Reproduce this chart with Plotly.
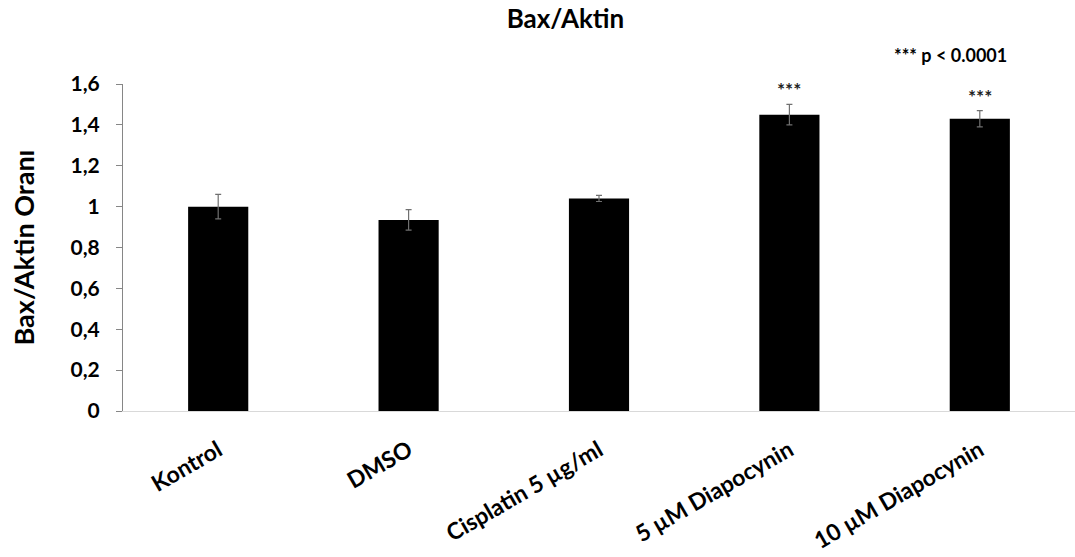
import plotly.graph_objects as go

categories = ["Kontrol", "DMSO", "Cisplatin 5 µg/ml", "5 µM Diapocynin", "10 µM Diapocynin"]
ratios = [1.00, 0.935, 1.04, 1.45, 1.43]
errors = [0.06, 0.05, 0.015, 0.05, 0.04]
significance = ["", "", "", "***", "***"]
y_ticks = [0, 0.2, 0.4, 0.6, 0.8, 1.0, 1.2, 1.4, 1.6]
y_tick_text = ["0", "0,2", "0,4", "0,6", "0,8", "1", "1,2", "1,4", "1,6"]

font_family = "Lato, Open Sans, DejaVu Sans, sans-serif"

fig = go.Figure()
fig.add_trace(go.Bar(
    x=categories,
    y=ratios,
    width=0.316,
    marker=dict(color="black", line=dict(width=0)),
    error_y=dict(type="data", array=errors, visible=True,
                 color="#707070", thickness=1.2, width=3),
    showlegend=False,
))

# significance stars above the error bars
for cat, val, err, sig in zip(categories, ratios, errors, significance):
    if sig:
        fig.add_annotation(x=cat, y=val + err, text="<b>" + sig + "</b>", showarrow=False,
                           yanchor="bottom", yshift=1,
                           font=dict(family=font_family, size=19, color="#222222"))

fig.add_annotation(x=0.869, y=1.09, xref="paper", yref="paper", text="<b>*** p < 0.0001</b>",
                   showarrow=False, xanchor="center", yanchor="middle",
                   font=dict(family=font_family, size=18, color="black"))

fig.update_layout(
    width=1075, height=557,
    margin=dict(l=123, r=0, t=84, b=146),
    paper_bgcolor="white", plot_bgcolor="white",
    title=dict(text="<b>Bax/Aktin</b>", x=0.526, xanchor="center", y=0.966, yanchor="middle",
               font=dict(family=font_family, size=26, color="black")),
    bargap=0.684,
    font=dict(family=font_family, color="black"),
)

fig.update_xaxes(
    type="category",
    tickangle=-30,
    tickfont=dict(family=font_family, size=23, color="black"),
    tickprefix="<b>", ticksuffix="</b>",
    ticklabelstandoff=16,
    showline=True, linecolor="#d9d9d9", linewidth=1,
    ticks="", showgrid=False,
    range=[-0.5, 4.5],
)

fig.update_yaxes(
    range=[0, 1.6],
    tickvals=y_ticks,
    ticktext=["<b>" + t + "</b>" for t in y_tick_text],
    tickfont=dict(family=font_family, size=21, color="black"),
    ticks="outside", ticklen=6, tickcolor="#868686", tickwidth=1,
    ticklabelstandoff=12,
    showline=True, linecolor="#868686", linewidth=1,
    showgrid=False, zeroline=False,
    title=dict(text="<b>Bax/Aktin Oranı</b>", standoff=28,
               font=dict(family=font_family, size=27, color="black")),
)

fig.write_html("out.html")
